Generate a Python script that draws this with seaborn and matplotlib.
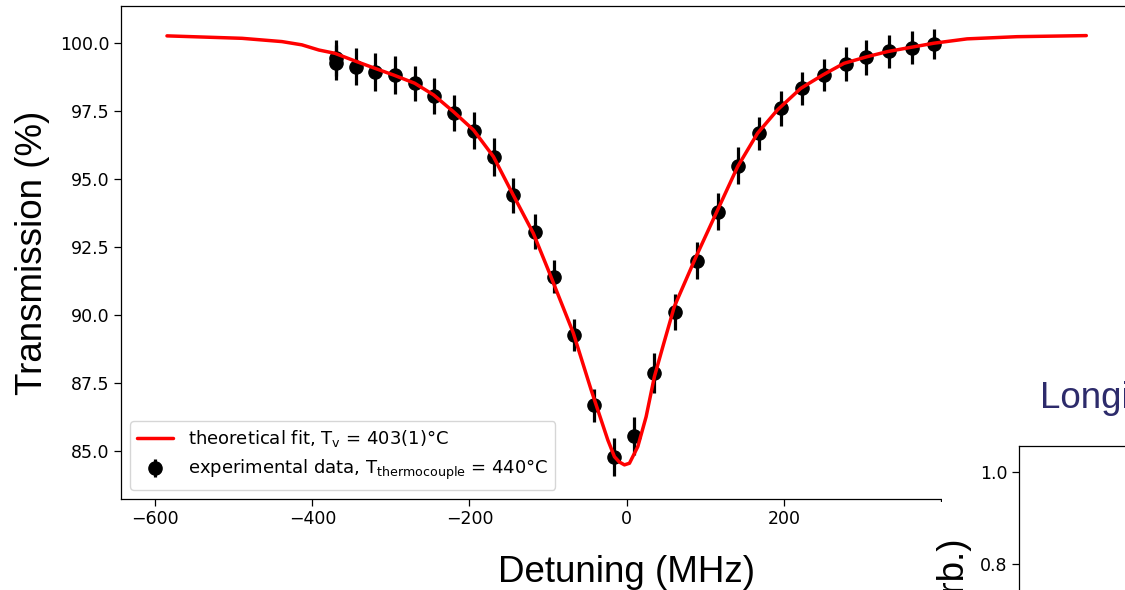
import matplotlib
matplotlib.use("Agg")
import matplotlib.pyplot as plt
from matplotlib.patches import Rectangle
import pandas as pd
import seaborn as sns

# ---------------- data ----------------
fit_detuning = [-585, -489.5, -438.7, -413.3, -391.7, -371.4, -346.0, -320.6, -296.5,
                -269.8, -245.7, -220.3, -194.9, -169.5, -145.4, -118.7, -99.7, -67.9,
                -45.1, -23.9, -15.5, -9.5, -2.8, 3.6, 14.2, 24.8, 35.3, 47.0, 60.7,
                88.3, 115.8, 141.2, 166.6, 192.0, 221.6, 249.5, 276.6, 305.4, 331.7,
                348.6, 390.9, 433.3, 496.8, 585]
fit_transmission = [100.26, 100.17, 100.05, 99.93, 99.74, 99.62, 99.34, 99.07, 98.82,
                    98.52, 98.09, 97.47, 96.80, 95.82, 94.47, 93.00, 91.65, 89.34,
                    87.24, 85.40, 84.79, 84.60, 84.49, 84.55, 85.16, 86.26, 87.73, 88.93,
                    90.31, 92.14, 93.86, 95.45, 96.68, 97.54, 98.33, 98.82, 99.25, 99.49,
                    99.68, 99.77, 99.99, 100.15, 100.23, 100.27]

data_detuning = [-370, -370, -345, -320, -295, -269, -245, -220, -194, -169, -144, -117,
                 -93, -67, -42, -16, 10, 35, 61, 89, 116, 141.5, 169, 196, 223, 251,
                 279, 305, 334, 363, 391]
data_transmission = [99.45, 99.28, 99.13, 98.94, 98.82, 98.52, 98.05, 97.44, 96.78, 95.80,
                     94.40, 93.06, 91.41, 89.26, 86.68, 84.77, 85.56, 87.87, 90.11, 92.00,
                     93.80, 95.49, 96.68, 97.60, 98.33, 98.82, 99.23, 99.47, 99.69, 99.82,
                     99.96]
data_error = [0.65, 0.65, 0.67, 0.69, 0.69, 0.65, 0.67, 0.66, 0.67, 0.70, 0.64, 0.65,
              0.61, 0.60, 0.61, 0.70, 0.69, 0.72, 0.66, 0.68, 0.69, 0.67, 0.60, 0.64,
              0.61, 0.60, 0.63, 0.64, 0.60, 0.61, 0.56]

x_ticks = [-600, -400, -200, 0, 200, 400, 600]
y_ticks = [85.0, 87.5, 90.0, 92.5, 95.0, 97.5, 100.0]
second_y_ticks = [0.0, 0.2, 0.4, 0.6, 0.8, 1.0]

fit_label = r"theoretical fit, T$_\mathrm{v}$ = 403(1)°C"
data_label = r"experimental data, T$_\mathrm{thermocouple}$ = 440°C"
x_label = "Detuning (MHz)"
y_label = "Transmission (%)"
second_title = "Longitudinal velocity distribution"
second_y_label = "Intensity (arb.)"

# ---------------- style ----------------
sns.set_style("ticks", {"axes.edgecolor": "black", "xtick.color": "black",
                        "ytick.color": "black", "text.color": "black",
                        "axes.labelcolor": "black"})
plt.rcParams["font.family"] = ["DejaVu Sans"]
plt.rcParams["mathtext.fontset"] = "dejavusans"
LABEL_FONT = "Liberation Sans"

fig = plt.figure(figsize=(11.25, 5.9), dpi=100)

# ---------------- main panel ----------------
ax = fig.add_axes([0.10756, 0.1549, 0.8989, 0.8341])
fit_df = pd.DataFrame({"detuning": fit_detuning, "transmission": fit_transmission})
ax.errorbar(data_detuning, data_transmission, yerr=data_error, fmt="o", color="black",
            ms=9.5, elinewidth=2.3, capsize=0, label=data_label, zorder=2)
sns.lineplot(data=fit_df, x="detuning", y="transmission", color="red", lw=2.5,
             label=fit_label, ax=ax, zorder=3, sort=False)

ax.set_xlim(-643.5, 643.5)
ax.set_ylim(83.25, 101.34)
ax.set_xticks(x_ticks)
ax.set_yticks(y_ticks)
ax.tick_params(labelsize=12.5, length=5, width=0.9)
ax.set_xlabel(x_label, fontsize=26.5, family=LABEL_FONT, labelpad=19)
ax.set_ylabel(y_label, fontsize=26.5, family=LABEL_FONT, labelpad=7)
for s in ax.spines.values():
    s.set_linewidth(0.9)
ax.legend(loc="lower left", fontsize=13)

# ---------------- overlapping second panel (partly visible) ----------------
fig.add_artist(Rectangle((942 / 1125, 0), 1 - 942 / 1125, 530 / 590,
                         transform=fig.transFigure, facecolor="white",
                         edgecolor="none", zorder=2))
fig.add_artist(Rectangle((900 / 1125, 0), 42 / 1125, 88 / 590,
                         transform=fig.transFigure, facecolor="white",
                         edgecolor="none", zorder=2))

ax2 = fig.add_axes([1019 / 1125, -0.6163, 0.3, 0.8603])
ax2.set_zorder(3)
ax2.set_ylim(-0.05, 1.057)
ax2.set_xlim(0, 1)
ax2.set_yticks(second_y_ticks)
ax2.set_xticks([])
ax2.tick_params(labelsize=12.5, length=5, width=0.9)
for s in ax2.spines.values():
    s.set_linewidth(0.9)
ax2.set_ylabel(second_y_label, fontsize=26.5, family=LABEL_FONT)
ax2.yaxis.set_label_coords(-0.139, 0.587)

fig.text(1040 / 1125, (590 - 408) / 590, second_title, ha="left", va="baseline",
         fontsize=26.5, family=LABEL_FONT, color="#2d2b6b", zorder=5)

fig.savefig("out.png", dpi=100)
